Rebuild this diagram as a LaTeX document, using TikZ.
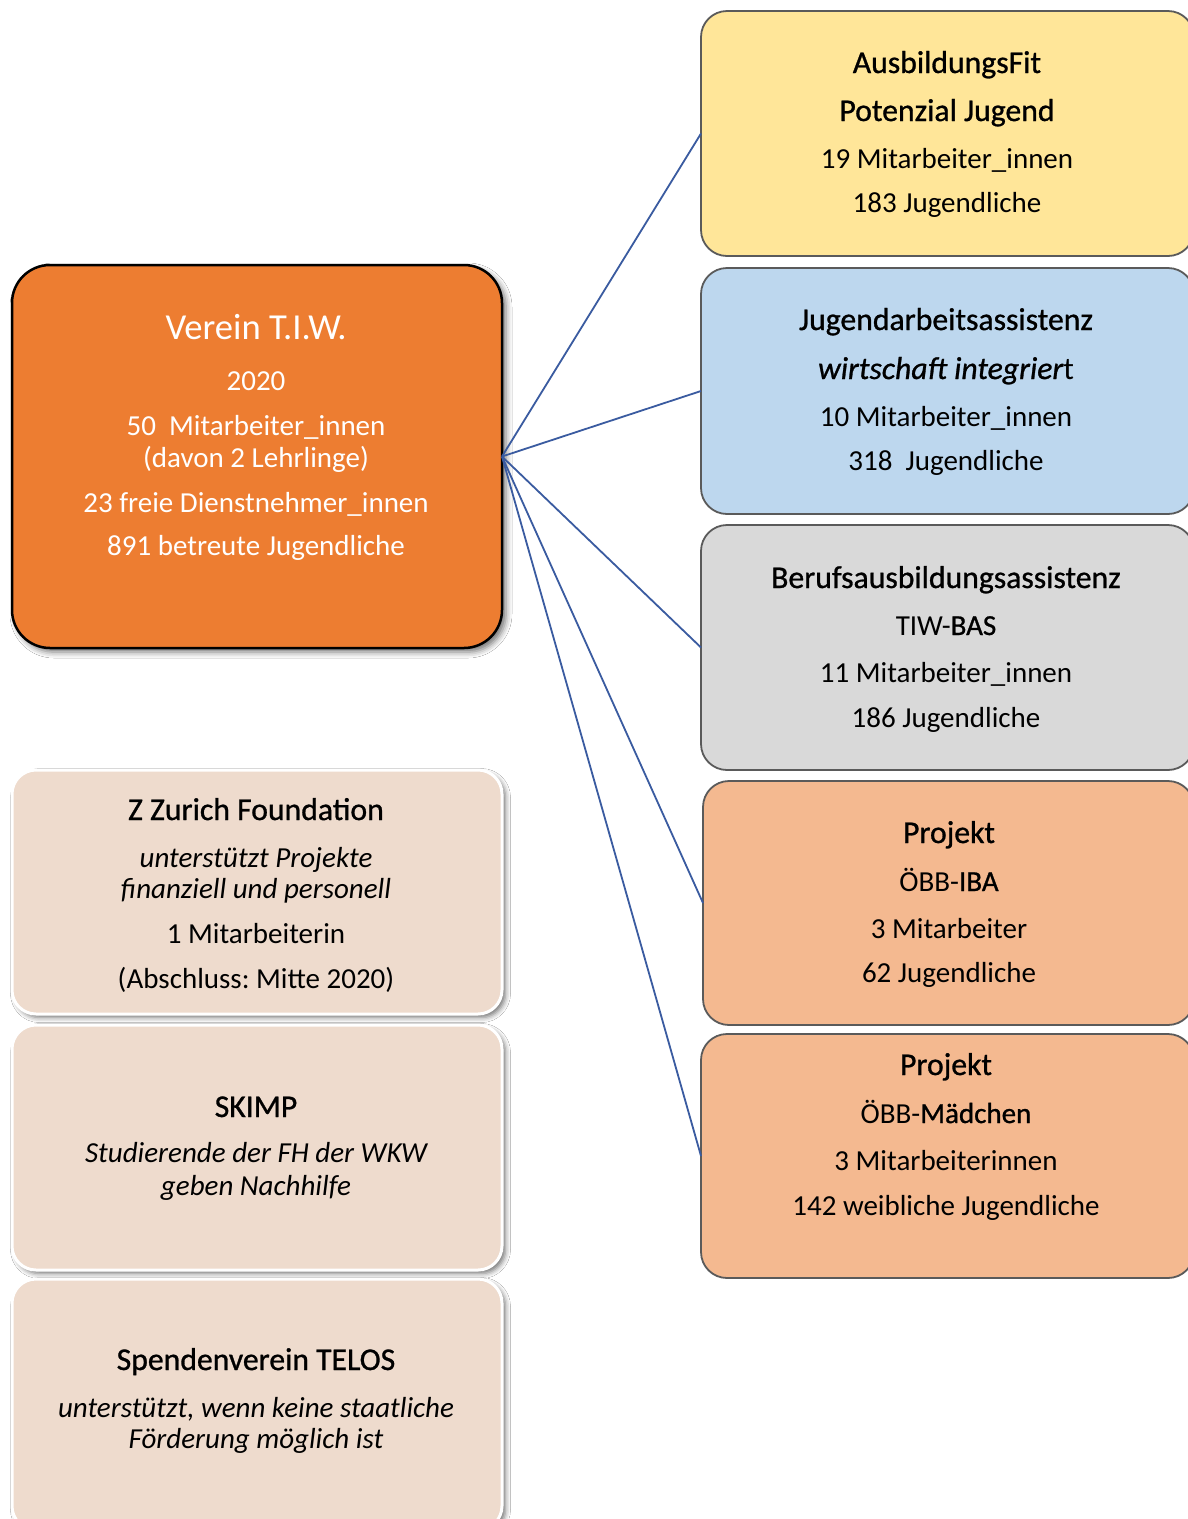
\documentclass[tikz,border=0pt]{standalone}
\usepackage{fontspec}
\setmainfont{Carlito}
\newfontfamily\hvy[FakeBold=0.9]{Carlito}
\usetikzlibrary{shadows.blur}
\frenchspacing
\definecolor{mainor}{HTML}{ED7D31}
\definecolor{yel}{HTML}{FFE699}
\definecolor{blu}{HTML}{BDD7EE}
\definecolor{gry}{HTML}{D9D9D9}
\definecolor{lor}{HTML}{F4B990}
\definecolor{pch}{HTML}{EEDBCD}
\definecolor{edge}{HTML}{5A5A5A}
\definecolor{conn}{HTML}{3A5BA0}
\begin{document}
\begin{tikzpicture}[x=1pt,y=-1pt,
  rbox/.style={rectangle, rounded corners=26pt, draw=edge, line width=1.8pt, inner sep=0pt, outer sep=0pt, minimum width=493pt},
  mainbox/.style={rectangle, rounded corners=38pt, draw=black, line width=2.5pt, fill=mainor, inner sep=0pt, outer sep=0pt,
    blur shadow={shadow xshift=4pt, shadow yshift=-4pt, shadow opacity=55, shadow blur radius=6pt}},
  lbox/.style={rectangle, rounded corners=24pt, draw=white, line width=3pt, fill=pch, inner sep=0pt, outer sep=0pt, minimum width=490pt,
    blur shadow={shadow xshift=3.5pt, shadow yshift=-3.5pt, shadow opacity=55, shadow blur radius=5pt}},
  tx/.style={anchor=base, inner sep=0pt},
  bdy/.style={tx, font=\fontsize{29}{35}\selectfont},
  itl/.style={tx, font=\itshape\fontsize{29}{35}\selectfont},
  ttl/.style={tx, font=\hvy\fontsize{31.7}{38}\selectfont},
  wt/.style={text=white},
  link/.style={draw=conn, line width=1.8pt}]
\clip (0,0) rectangle (1188,1519);
\fill[white] (0,0) rectangle (1188,1519);

% boxes
\node[mainbox, minimum width=490pt, minimum height=383pt] (tiw) at (257,456.5) {};
\node[rbox, fill=yel, minimum height=245pt] (fit) at (947.5,133.5) {};
\node[rbox, fill=blu, minimum height=246pt] (jaa) at (947.5,391) {};
\node[rbox, fill=gry, minimum height=245pt] (bas) at (947.5,647.5) {};
\node[rbox, fill=lor, minimum height=244pt, minimum width=491pt] (iba) at (948.5,903) {};
\node[rbox, fill=lor, minimum height=244pt] (mae) at (947.5,1156) {};
\node[lbox, minimum height=244pt] (zur) at (257,892) {};
\node[lbox, minimum height=245pt] (ski) at (257,1147.5) {};
\node[lbox, minimum height=251pt] (tel) at (257,1404.5) {};

% connectors
\draw[link] (tiw.east) -- (fit.west);
\draw[link] (tiw.east) -- (jaa.west);
\draw[link] (tiw.east) -- (bas.west);
\draw[link] (tiw.east) -- (iba.west);
\draw[link] (tiw.east) -- (mae.west);

% main text
\node[tx, wt, font=\fontsize{36.6}{42}\selectfont] (m1) at (256,339) {Verein T.I.W.};
\node[bdy, wt] (m2) at (256,390) {2020};
\node[bdy, wt] (m3) at (256,435) {50\ \ Mitarbeiter\_innen};
\node[bdy, wt] (m4) at (256,467) {(davon 2 Lehrlinge)};
\node[bdy, wt] (m5) at (256,512) {23 freie Dienstnehmer\_innen};
\node[bdy, wt] (m6) at (256,555) {891 betreute Jugendliche};

% yellow
\node[ttl] (f1) at (947,73) {AusbildungsFit};
\node[ttl] (f2) at (947,121) {Potenzial Jugend};
\node[bdy] (f3) at (947,168) {19 Mitarbeiter\_innen};
\node[bdy] (f4) at (947,212) {183 Jugendliche};

% blue
\node[ttl] (j1) at (946,330) {Jugendarbeitsassistenz};
\node[ttl] (j2) at (946,379) {{\itshape wirtschaft integrier}{\fontspec{Carlito}t}};
\node[bdy] (j3) at (946,426) {10 Mitarbeiter\_innen};
\node[bdy] (j4) at (946,470) {318\ \ Jugendliche};

% gray
\node[ttl] (b1) at (946,588) {Berufsausbildungsassistenz};
\node[bdy] (b2) at (946,635) {TIW-{\hvy BAS}};
\node[bdy] (b3) at (946,682) {11 Mitarbeiter\_innen};
\node[bdy] (b4) at (946,727) {186 Jugendliche};

% IBA
\node[ttl] (i1) at (949,843) {Projekt};
\node[bdy] (i2) at (949,891) {ÖBB-{\hvy IBA}};
\node[bdy] (i3) at (949,938) {3 Mitarbeiter};
\node[bdy] (i4) at (949,982) {62 Jugendliche};

% Maedchen
\node[ttl] (d1) at (946,1075) {Projekt};
\node[bdy] (d2) at (946,1123) {ÖBB-{\hvy Mädchen}};
\node[bdy] (d3) at (946,1170) {3 Mitarbeiterinnen};
\node[bdy] (d4) at (946,1215) {142 weibliche Jugendliche};

% Zurich
\node[ttl] (z1) at (256,820) {Z Zurich Foundation};
\node[itl] (z2) at (256,867) {unterstützt Projekte};
\node[itl] (z3) at (256,898) {finanziell und personell};
\node[bdy] (z4) at (256,943) {1 Mitarbeiterin};
\node[bdy] (z5) at (256,988) {(Abschluss: Mitte 2020)};

% SKIMP
\node[ttl] (s1) at (256,1117) {SKIMP};
\node[itl] (s2) at (256,1162) {Studierende der FH der WKW};
\node[itl] (s3) at (256,1195) {geben Nachhilfe};

% TELOS
\node[ttl] (t1) at (256,1370) {Spendenverein TELOS};
\node[itl] (t2) at (256,1417) {unterstützt, wenn keine staatliche};
\node[itl] (t3) at (256,1448) {Förderung möglich ist};
\end{tikzpicture}
\end{document}
